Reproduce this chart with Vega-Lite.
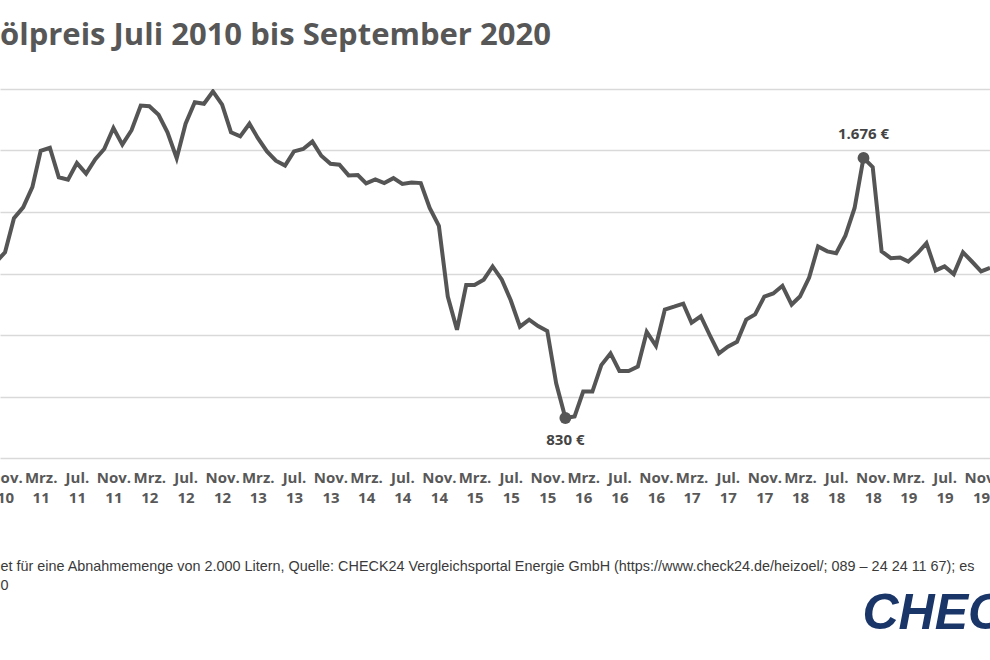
{
  "$schema": "https://vega.github.io/schema/vega-lite/v6.json",
  "width": 990,
  "height": 369,
  "autosize": {"type": "none"},
  "padding": {"left": 0, "top": 89, "right": 0, "bottom": 202},
  "background": "white",
  "config": {"view": {"stroke": null}, "font": "Open Sans", "axis": {"labelOverlap": false, "labelSeparation": 0}},
  "title": {
    "text": "ölpreis Juli 2010 bis September 2020",
    "anchor": "start",
    "frame": "group",
    "offset": 13,
    "baseline": "alphabetic",
    "fontSize": 31,
    "fontWeight": "bold",
    "color": "#575757",
    "font": "Open Sans"
  },
  "datasets": {
    "preise": [
      {"monat": "2010-10-01", "preis": 1336},
      {"monat": "2010-11-01", "preis": 1369},
      {"monat": "2010-12-01", "preis": 1480},
      {"monat": "2011-01-01", "preis": 1515},
      {"monat": "2011-02-01", "preis": 1581},
      {"monat": "2011-03-01", "preis": 1699},
      {"monat": "2011-04-01", "preis": 1709},
      {"monat": "2011-05-01", "preis": 1613},
      {"monat": "2011-06-01", "preis": 1605},
      {"monat": "2011-07-01", "preis": 1659},
      {"monat": "2011-08-01", "preis": 1625},
      {"monat": "2011-09-01", "preis": 1672},
      {"monat": "2011-10-01", "preis": 1705},
      {"monat": "2011-11-01", "preis": 1773},
      {"monat": "2011-12-01", "preis": 1719},
      {"monat": "2012-01-01", "preis": 1766},
      {"monat": "2012-02-01", "preis": 1846},
      {"monat": "2012-03-01", "preis": 1844},
      {"monat": "2012-04-01", "preis": 1816},
      {"monat": "2012-05-01", "preis": 1759},
      {"monat": "2012-06-01", "preis": 1675},
      {"monat": "2012-07-01", "preis": 1787},
      {"monat": "2012-08-01", "preis": 1857},
      {"monat": "2012-09-01", "preis": 1852},
      {"monat": "2012-10-01", "preis": 1892},
      {"monat": "2012-11-01", "preis": 1849},
      {"monat": "2012-12-01", "preis": 1759},
      {"monat": "2013-01-01", "preis": 1746},
      {"monat": "2013-02-01", "preis": 1787},
      {"monat": "2013-03-01", "preis": 1741},
      {"monat": "2013-04-01", "preis": 1697},
      {"monat": "2013-05-01", "preis": 1667},
      {"monat": "2013-06-01", "preis": 1651},
      {"monat": "2013-07-01", "preis": 1697},
      {"monat": "2013-08-01", "preis": 1705},
      {"monat": "2013-09-01", "preis": 1729},
      {"monat": "2013-10-01", "preis": 1683},
      {"monat": "2013-11-01", "preis": 1657},
      {"monat": "2013-12-01", "preis": 1654},
      {"monat": "2014-01-01", "preis": 1619},
      {"monat": "2014-02-01", "preis": 1620},
      {"monat": "2014-03-01", "preis": 1593},
      {"monat": "2014-04-01", "preis": 1606},
      {"monat": "2014-05-01", "preis": 1594},
      {"monat": "2014-06-01", "preis": 1610},
      {"monat": "2014-07-01", "preis": 1591},
      {"monat": "2014-08-01", "preis": 1596},
      {"monat": "2014-09-01", "preis": 1594},
      {"monat": "2014-10-01", "preis": 1513},
      {"monat": "2014-11-01", "preis": 1455},
      {"monat": "2014-12-01", "preis": 1225},
      {"monat": "2015-01-01", "preis": 1117},
      {"monat": "2015-02-01", "preis": 1263},
      {"monat": "2015-03-01", "preis": 1263},
      {"monat": "2015-04-01", "preis": 1280},
      {"monat": "2015-05-01", "preis": 1323},
      {"monat": "2015-06-01", "preis": 1280},
      {"monat": "2015-07-01", "preis": 1213},
      {"monat": "2015-08-01", "preis": 1127},
      {"monat": "2015-09-01", "preis": 1150},
      {"monat": "2015-10-01", "preis": 1129},
      {"monat": "2015-11-01", "preis": 1113},
      {"monat": "2015-12-01", "preis": 943},
      {"monat": "2016-01-01", "preis": 830},
      {"monat": "2016-02-01", "preis": 835},
      {"monat": "2016-03-01", "preis": 916},
      {"monat": "2016-04-01", "preis": 916},
      {"monat": "2016-05-01", "preis": 1002},
      {"monat": "2016-06-01", "preis": 1040},
      {"monat": "2016-07-01", "preis": 983},
      {"monat": "2016-08-01", "preis": 983},
      {"monat": "2016-09-01", "preis": 997},
      {"monat": "2016-10-01", "preis": 1110},
      {"monat": "2016-11-01", "preis": 1065},
      {"monat": "2016-12-01", "preis": 1183},
      {"monat": "2017-01-01", "preis": 1192},
      {"monat": "2017-02-01", "preis": 1202},
      {"monat": "2017-03-01", "preis": 1140},
      {"monat": "2017-04-01", "preis": 1161},
      {"monat": "2017-05-01", "preis": 1100},
      {"monat": "2017-06-01", "preis": 1040},
      {"monat": "2017-07-01", "preis": 1062},
      {"monat": "2017-08-01", "preis": 1078},
      {"monat": "2017-09-01", "preis": 1150},
      {"monat": "2017-10-01", "preis": 1167},
      {"monat": "2017-11-01", "preis": 1225},
      {"monat": "2017-12-01", "preis": 1235},
      {"monat": "2018-01-01", "preis": 1260},
      {"monat": "2018-02-01", "preis": 1199},
      {"monat": "2018-03-01", "preis": 1225},
      {"monat": "2018-04-01", "preis": 1287},
      {"monat": "2018-05-01", "preis": 1388},
      {"monat": "2018-06-01", "preis": 1372},
      {"monat": "2018-07-01", "preis": 1366},
      {"monat": "2018-08-01", "preis": 1423},
      {"monat": "2018-09-01", "preis": 1513},
      {"monat": "2018-10-01", "preis": 1676},
      {"monat": "2018-11-01", "preis": 1646},
      {"monat": "2018-12-01", "preis": 1372},
      {"monat": "2019-01-01", "preis": 1350},
      {"monat": "2019-02-01", "preis": 1352},
      {"monat": "2019-03-01", "preis": 1339},
      {"monat": "2019-04-01", "preis": 1366},
      {"monat": "2019-05-01", "preis": 1399},
      {"monat": "2019-06-01", "preis": 1310},
      {"monat": "2019-07-01", "preis": 1323},
      {"monat": "2019-08-01", "preis": 1298},
      {"monat": "2019-09-01", "preis": 1369},
      {"monat": "2019-10-01", "preis": 1339},
      {"monat": "2019-11-01", "preis": 1307},
      {"monat": "2019-12-01", "preis": 1318}
    ],
    "extreme": [
      {"monat": "2016-01-01", "preis": 830, "text": "830 €", "lage": "unten"},
      {"monat": "2018-10-01", "preis": 1676, "text": "1.676 €", "lage": "oben"}
    ]
  },
  "encoding": {
    "x": {
      "field": "monat",
      "type": "temporal",
      "scale": {
        "type": "utc",
        "domain": [
          {"year": 2010, "month": 10, "date": 15, "utc": true},
          {"year": 2019, "month": 12, "date": 1, "utc": true}
        ]
      },
      "axis": {
        "values": [
          {"year": 2010, "month": 11, "date": 1, "utc": true},
          {"year": 2011, "month": 3, "date": 1, "utc": true},
          {"year": 2011, "month": 7, "date": 1, "utc": true},
          {"year": 2011, "month": 11, "date": 1, "utc": true},
          {"year": 2012, "month": 3, "date": 1, "utc": true},
          {"year": 2012, "month": 7, "date": 1, "utc": true},
          {"year": 2012, "month": 11, "date": 1, "utc": true},
          {"year": 2013, "month": 3, "date": 1, "utc": true},
          {"year": 2013, "month": 7, "date": 1, "utc": true},
          {"year": 2013, "month": 11, "date": 1, "utc": true},
          {"year": 2014, "month": 3, "date": 1, "utc": true},
          {"year": 2014, "month": 7, "date": 1, "utc": true},
          {"year": 2014, "month": 11, "date": 1, "utc": true},
          {"year": 2015, "month": 3, "date": 1, "utc": true},
          {"year": 2015, "month": 7, "date": 1, "utc": true},
          {"year": 2015, "month": 11, "date": 1, "utc": true},
          {"year": 2016, "month": 3, "date": 1, "utc": true},
          {"year": 2016, "month": 7, "date": 1, "utc": true},
          {"year": 2016, "month": 11, "date": 1, "utc": true},
          {"year": 2017, "month": 3, "date": 1, "utc": true},
          {"year": 2017, "month": 7, "date": 1, "utc": true},
          {"year": 2017, "month": 11, "date": 1, "utc": true},
          {"year": 2018, "month": 3, "date": 1, "utc": true},
          {"year": 2018, "month": 7, "date": 1, "utc": true},
          {"year": 2018, "month": 11, "date": 1, "utc": true},
          {"year": 2019, "month": 3, "date": 1, "utc": true},
          {"year": 2019, "month": 7, "date": 1, "utc": true},
          {"year": 2019, "month": 11, "date": 1, "utc": true}
        ],
        "labelExpr": "[['Jan.','Feb.','Mrz.','Apr.','Mai','Jun.','Jul.','Aug.','Sep.','Okt.','Nov.','Dez.'][utcmonth(datum.value)], utcFormat(datum.value, '%y')]",
        "labelFont": "Open Sans",
        "labelFontWeight": "bold",
        "labelFontSize": 15,
        "labelColor": "#585858",
        "labelLineHeight": 20,
        "labelPadding": 12,
        "labelFlush": false,
        "labelOverlap": false,
        "labelSeparation": 0,
        "labelBound": false,
        "ticks": false,
        "domain": false,
        "grid": false,
        "title": ["et für eine Abnahmemenge von 2.000 Litern, Quelle: CHECK24 Vergleichsportal Energie GmbH (https://www.check24.de/heizoel/; 089 – 24 24 11 67); es", "0"],
        "titleFont": "Liberation Sans",
        "titleFontSize": 14.4,
        "titleFontWeight": "normal",
        "titleColor": "#3a3a3a",
        "titleAnchor": "start",
        "titleAlign": "left",
        "titleBaseline": "alphabetic",
        "titleX": 0,
        "titleY": 112,
        "titleLineHeight": 19
      }
    },
    "y": {
      "field": "preis",
      "type": "quantitative",
      "scale": {"domain": [700, 1900], "zero": false, "nice": false},
      "axis": {
        "orient": "right",
        "values": [700, 900, 1100, 1300, 1500, 1700, 1900],
        "labels": false,
        "ticks": false,
        "domain": false,
        "grid": true,
        "gridColor": "#d9d9d9",
        "gridWidth": 1.5,
        "title": "CHECK24",
        "titleAngle": 0,
        "titleAlign": "left",
        "titleBaseline": "alphabetic",
        "titleX": -128,
        "titleY": 539,
        "titleFont": "Liberation Sans",
        "titleFontSize": 50,
        "titleFontStyle": "italic",
        "titleFontWeight": "bold",
        "titleColor": "#1a3668"
      }
    }
  },
  "layer": [
    {
      "data": {"name": "preise"},
      "mark": {"type": "line", "color": "#555555", "strokeWidth": 4, "clip": true, "strokeJoin": "miter"}
    },
    {
      "data": {"name": "extreme"},
      "mark": {"type": "circle", "size": 140, "color": "#555555", "opacity": 1}
    },
    {
      "data": {"name": "extreme"},
      "transform": [{"filter": "datum.lage === 'unten'"}],
      "mark": {"type": "text", "dy": 22, "baseline": "middle", "align": "center", "font": "Open Sans", "fontWeight": "bold", "fontSize": 15, "color": "#444444"},
      "encoding": {"text": {"field": "text"}}
    },
    {
      "data": {"name": "extreme"},
      "transform": [{"filter": "datum.lage === 'oben'"}],
      "mark": {"type": "text", "dy": -24, "baseline": "middle", "align": "center", "font": "Open Sans", "fontWeight": "bold", "fontSize": 15, "color": "#444444"},
      "encoding": {"text": {"field": "text"}}
    }
  ]
}
